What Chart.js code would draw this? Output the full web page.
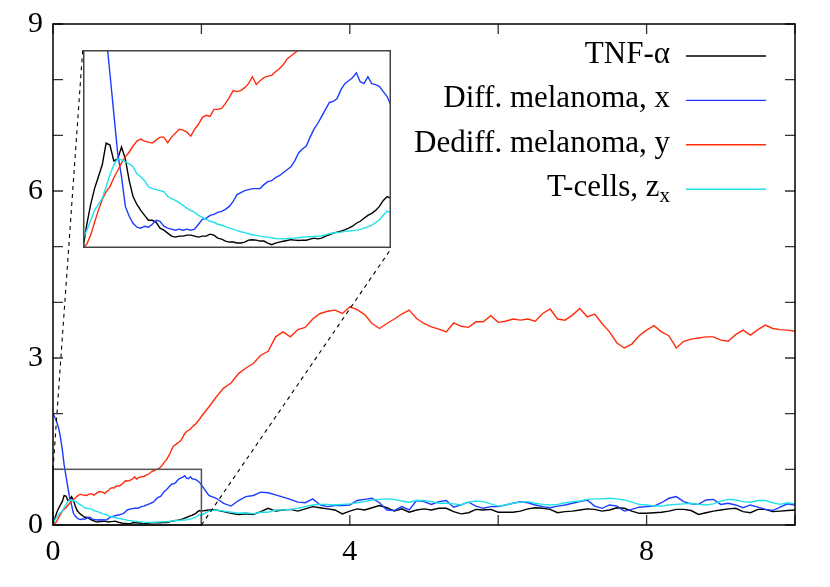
<!DOCTYPE html>
<html>
<head>
<meta charset="utf-8">
<script src="https://cdn.jsdelivr.net/npm/chart.js@4.4.1/dist/chart.umd.min.js"></script>
<style>
  html, body { margin: 0; padding: 0; background: #fff; }
  #wrap { position: relative; width: 830px; height: 587px; }
  #main { position: absolute; left: 0; top: 0; }
  #insetBox { position: absolute; background: #fff; }
  #insetBox canvas { display: block; }
</style>
</head>
<body>
<div id="wrap">
  <canvas id="main" width="830" height="587"></canvas>
  <div id="insetBox"><canvas id="inset"></canvas></div>
</div>
<script>
// sampling grid: fine up to t=2 (shown in the inset), coarser afterwards
const EARLY_STEP = 0.025, EARLY_COUNT = 81;
const LATE_STEP = 0.1, LATE_COUNT = 80;

// ---- values, t = 0 .. 2 (step 0.025) ----
const TNF_EARLY = [0.00,0.12,0.22,0.30,0.36,0.42,0.53,0.52,0.44,0.45,0.51,0.45,0.34,0.26,0.22,0.19,0.165,0.14,0.14,0.13,
  0.10,0.09,0.075,0.06,0.055,0.06,0.06,0.065,0.065,0.06,0.055,0.06,0.06,0.07,0.065,0.05,0.045,0.035,0.03,0.03,
  0.025,0.025,0.03,0.04,0.042,0.04,0.035,0.035,0.025,0.017,0.025,0.03,0.034,0.038,0.042,0.04,0.038,0.04,0.039,0.045,
  0.05,0.046,0.05,0.06,0.067,0.075,0.08,0.085,0.092,0.10,0.11,0.125,0.135,0.15,0.165,0.175,0.19,0.21,0.24,0.26,0.25];
const DIFF_EARLY = [2.00,1.93,1.85,1.75,1.58,1.36,1.08,0.88,0.68,0.48,0.36,0.21,0.16,0.125,0.105,0.10,0.11,0.105,0.12,0.14,
  0.135,0.11,0.10,0.095,0.09,0.095,0.09,0.095,0.09,0.095,0.12,0.145,0.15,0.165,0.17,0.18,0.185,0.195,0.21,0.235,
  0.27,0.28,0.29,0.295,0.30,0.30,0.30,0.32,0.335,0.34,0.355,0.365,0.38,0.395,0.41,0.44,0.48,0.50,0.515,0.56,
  0.60,0.63,0.665,0.70,0.735,0.74,0.755,0.80,0.83,0.845,0.86,0.885,0.84,0.83,0.865,0.83,0.825,0.815,0.79,0.765,0.72];
const DEDIFF_EARLY = [0.00,0.02,0.065,0.13,0.19,0.245,0.285,0.31,0.355,0.39,0.43,0.46,0.485,0.515,0.54,0.55,0.54,0.535,0.53,0.545,
  0.56,0.56,0.532,0.56,0.58,0.60,0.595,0.585,0.565,0.60,0.625,0.66,0.67,0.665,0.70,0.70,0.705,0.73,0.76,0.795,
  0.79,0.795,0.81,0.83,0.865,0.826,0.845,0.86,0.868,0.872,0.89,0.905,0.925,0.955,0.97,0.985,1.00,1.01,1.04,1.08,
  1.13,1.16,1.22,1.28,1.36,1.42,1.44,1.47,1.49,1.52,1.58,1.64,1.68,1.70,1.72,1.76,1.79,1.82,1.86,1.90,1.95];
const TCELL_EARLY = [0.05,0.09,0.14,0.19,0.22,0.25,0.31,0.37,0.42,0.45,0.445,0.435,0.425,0.41,0.375,0.36,0.34,0.31,0.30,0.295,
  0.29,0.285,0.26,0.25,0.24,0.228,0.215,0.20,0.19,0.18,0.165,0.155,0.145,0.135,0.13,0.12,0.115,0.108,0.10,0.095,
  0.088,0.082,0.078,0.072,0.067,0.064,0.06,0.057,0.055,0.052,0.048,0.046,0.047,0.048,0.05,0.05,0.052,0.054,0.056,0.057,
  0.058,0.059,0.062,0.066,0.072,0.076,0.078,0.08,0.084,0.086,0.088,0.09,0.093,0.10,0.107,0.115,0.128,0.143,0.165,0.186,0.177];

// ---- values, t = 2.1 .. 10 (step 0.1) ----
const TNF_LATE = [0.27,0.27,0.24,0.21,0.19,0.20,0.19,0.24,0.30,
  0.25,0.27,0.28,0.25,0.29,0.33,0.31,0.29,0.27,0.20,
  0.25,0.29,0.27,0.31,0.35,0.31,0.25,0.29,0.23,0.27,
  0.29,0.27,0.30,0.30,0.24,0.20,0.22,0.28,0.27,0.28,
  0.23,0.23,0.23,0.25,0.29,0.31,0.30,0.28,0.22,0.24,
  0.25,0.27,0.29,0.28,0.25,0.27,0.31,0.30,0.25,0.21,
  0.21,0.22,0.23,0.25,0.28,0.28,0.26,0.19,0.22,0.25,
  0.27,0.29,0.30,0.24,0.22,0.28,0.28,0.24,0.25,0.26,0.27];
const DIFF_LATE = [0.53,0.48,0.39,0.34,0.44,0.51,0.53,0.59,0.58,
  0.54,0.50,0.46,0.41,0.40,0.47,0.36,0.33,0.35,0.35,
  0.36,0.44,0.46,0.48,0.40,0.27,0.26,0.33,0.27,0.44,
  0.42,0.37,0.42,0.44,0.32,0.36,0.41,0.34,0.30,0.33,
  0.33,0.36,0.39,0.42,0.40,0.36,0.33,0.31,0.34,0.36,
  0.39,0.42,0.45,0.34,0.30,0.36,0.34,0.25,0.28,0.32,
  0.33,0.34,0.40,0.48,0.51,0.42,0.38,0.37,0.45,0.46,
  0.37,0.39,0.36,0.31,0.36,0.32,0.28,0.26,0.32,0.38,0.36];
const DEDIFF_LATE = [2.12,2.30,2.46,2.55,2.72,2.82,2.90,3.05,3.12,
  3.38,3.47,3.38,3.51,3.55,3.70,3.80,3.84,3.86,3.80,
  3.92,3.87,3.78,3.62,3.53,3.62,3.70,3.79,3.86,3.71,
  3.62,3.56,3.52,3.47,3.63,3.57,3.55,3.65,3.65,3.76,
  3.64,3.66,3.70,3.68,3.70,3.66,3.80,3.88,3.70,3.68,
  3.77,3.89,3.74,3.79,3.62,3.47,3.27,3.18,3.25,3.40,
  3.50,3.58,3.47,3.40,3.18,3.30,3.34,3.36,3.38,3.38,
  3.32,3.30,3.42,3.50,3.41,3.51,3.59,3.53,3.51,3.50,3.48];
const TCELL_LATE = [0.25,0.27,0.25,0.23,0.21,0.22,0.20,0.23,0.23,
  0.27,0.27,0.28,0.30,0.33,0.36,0.37,0.37,0.36,0.37,
  0.38,0.40,0.42,0.45,0.46,0.47,0.46,0.43,0.41,0.44,
  0.44,0.42,0.39,0.39,0.38,0.36,0.41,0.43,0.42,0.38,
  0.34,0.36,0.39,0.41,0.42,0.39,0.37,0.36,0.37,0.40,
  0.42,0.43,0.46,0.47,0.47,0.48,0.47,0.45,0.41,0.37,
  0.36,0.34,0.34,0.36,0.37,0.38,0.39,0.37,0.36,0.38,
  0.43,0.46,0.45,0.42,0.41,0.44,0.44,0.40,0.37,0.40,0.38];

const SERIES_LABELS = ['TNF-\u03b1', 'Diff. melanoma, x', 'Dediff. melanoma, y', 'T-cells, z'];
const SERIES_SUBSCRIPTS = ['', '', '', 'x'];
const SERIES_COLORS = ['#000000', '#1b3cff', '#ff2d0d', '#1ee2ea'];
const X_LABELS = [0, 4, 8];
const Y_LABELS = [0, 3, 6, 9];

// zoom window [0,2]x[0,1] and where the inset sits, in main-axis units
const ZOOM_X = [0, 2], ZOOM_Y = [0, 1];
const INSET_X = [0.40, 4.56], INSET_Y = [4.97, 8.53];

const SERIF = "'Liberation Serif', 'Times New Roman', serif";
const TICK_LEN = 10;

const TIMES = [];
for (let i = 0; i < EARLY_COUNT; i++) TIMES.push(+(i * EARLY_STEP).toFixed(3));
for (let j = 1; j <= LATE_COUNT; j++) TIMES.push(+(2 + j * LATE_STEP).toFixed(3));

function toPoints(early, late) {
  return early.concat(late).map((v, i) => ({ x: TIMES[i], y: v }));
}
const SERIES_DATA = [
  toPoints(TNF_EARLY, TNF_LATE),
  toPoints(DIFF_EARLY, DIFF_LATE),
  toPoints(DEDIFF_EARLY, DEDIFF_LATE),
  toPoints(TCELL_EARLY, TCELL_LATE),
];

function makeDatasets() {
  return SERIES_DATA.map((d, i) => ({
    label: SERIES_LABELS[i] + SERIES_SUBSCRIPTS[i],
    data: d,
    borderColor: SERIES_COLORS[i],
    borderWidth: 1.4,
    pointRadius: 0,
    tension: 0,
    fill: false,
    order: SERIES_DATA.length - i, // later series on top, like the original
  }));
}

const frameTicks = {
  id: 'frameTicks',
  afterDatasetsDraw(chart) {
    const { ctx, chartArea: a, scales: { x, y } } = chart;
    ctx.save();
    ctx.strokeStyle = '#333';
    ctx.lineWidth = 1.3;
    ctx.beginPath();
    x.ticks.forEach(t => {
      const px = x.getPixelForValue(t.value);
      ctx.moveTo(px, a.bottom); ctx.lineTo(px, a.bottom - TICK_LEN);
      ctx.moveTo(px, a.top); ctx.lineTo(px, a.top + TICK_LEN);
    });
    y.ticks.forEach(t => {
      const py = y.getPixelForValue(t.value);
      ctx.moveTo(a.left, py); ctx.lineTo(a.left + TICK_LEN, py);
      ctx.moveTo(a.right, py); ctx.lineTo(a.right - TICK_LEN, py);
    });
    ctx.stroke();

    // zoom window
    ctx.strokeStyle = '#555';
    ctx.lineWidth = 1.5;
    const zx0 = x.getPixelForValue(ZOOM_X[0]), zx1 = x.getPixelForValue(ZOOM_X[1]);
    const zy0 = y.getPixelForValue(ZOOM_Y[0]), zy1 = y.getPixelForValue(ZOOM_Y[1]);
    ctx.strokeRect(zx0, zy1, zx1 - zx0, zy0 - zy1);

    // connectors to the inset
    ctx.strokeStyle = '#000';
    ctx.lineWidth = 1.1;
    ctx.setLineDash([4, 4]);
    ctx.beginPath();
    ctx.moveTo(zx0, zy1);
    ctx.lineTo(x.getPixelForValue(INSET_X[0]), y.getPixelForValue(INSET_Y[1]));
    ctx.moveTo(zx1, zy0);
    ctx.lineTo(x.getPixelForValue(INSET_X[1]), y.getPixelForValue(INSET_Y[0]));
    ctx.stroke();
    ctx.setLineDash([]);

    // frame
    ctx.strokeStyle = '#000';
    ctx.lineWidth = 1.5;
    ctx.strokeRect(a.left, a.top, a.width, a.height);
    ctx.restore();
  }
};

const sideLegend = {
  id: 'sideLegend',
  afterDraw(chart) {
    const { ctx, chartArea: a } = chart;
    const textRight = a.right - 125, lineX0 = a.right - 109, lineX1 = a.right - 29;
    ctx.save();
    SERIES_LABELS.forEach((lab, i) => {
      const rowY = a.top + 32 + i * 44.4;
      ctx.textBaseline = 'alphabetic';
      ctx.textAlign = 'right';
      ctx.fillStyle = '#000';
      let right = textRight;
      if (SERIES_SUBSCRIPTS[i]) {
        ctx.font = '21px ' + SERIF;
        ctx.fillText(SERIES_SUBSCRIPTS[i], right, rowY + 13);
        right -= ctx.measureText(SERIES_SUBSCRIPTS[i]).width;
      }
      ctx.font = '31px ' + SERIF;
      ctx.fillText(lab, right, rowY + 7);
      ctx.strokeStyle = SERIES_COLORS[i];
      ctx.lineWidth = 1.4;
      ctx.beginPath();
      ctx.moveTo(lineX0, rowY); ctx.lineTo(lineX1, rowY);
      ctx.stroke();
    });
    ctx.restore();
  }
};

const mainChart = new Chart(document.getElementById('main'), {
  type: 'line',
  data: { datasets: makeDatasets() },
  options: {
    responsive: false, animation: false,
    layout: { padding: { top: 24, right: 35, left: 0, bottom: 0 } },
    plugins: { legend: { display: false }, tooltip: { enabled: false } },
    scales: {
      x: {
        type: 'linear', min: 0, max: 10,
        grid: { display: false, drawTicks: false }, border: { display: false },
        ticks: {
          stepSize: 2, padding: 9, maxRotation: 0, color: '#000',
          font: { family: SERIF, size: 30 },
          callback: v => X_LABELS.includes(v) ? String(v) : '',
        },
        afterFit: s => { s.height = 62; },
      },
      y: {
        type: 'linear', min: 0, max: 9,
        grid: { display: false, drawTicks: false }, border: { display: false },
        ticks: {
          stepSize: 1, padding: 10, color: '#000',
          // small line height keeps the top label from pushing the plot area down
          font: { family: SERIF, size: 30, lineHeight: 0.8 },
          callback: v => Y_LABELS.includes(v) ? String(v) : '',
        },
        afterFit: s => { s.width = 53; },
      },
    },
  },
  plugins: [frameTicks, sideLegend],
});

// place the inset over the main chart, using the main scales
const mx = mainChart.scales.x, my = mainChart.scales.y;
const L = Math.round(mx.getPixelForValue(INSET_X[0])), R = Math.round(mx.getPixelForValue(INSET_X[1]));
const T = Math.round(my.getPixelForValue(INSET_Y[1])), B = Math.round(my.getPixelForValue(INSET_Y[0]));
const box = document.getElementById('insetBox');
box.style.left = L + 'px'; box.style.top = T + 'px';
box.style.width = (R - L) + 'px'; box.style.height = (B - T) + 'px';
const insetCanvas = document.getElementById('inset');
insetCanvas.width = R - L; insetCanvas.height = B - T;

const insetFrame = {
  id: 'insetFrame',
  afterDatasetsDraw(chart) {
    const { ctx, width, height } = chart;
    ctx.save();
    ctx.strokeStyle = '#444';
    ctx.lineWidth = 1.5;
    ctx.strokeRect(0.75, 0.75, width - 1.5, height - 1.5);
    ctx.restore();
  }
};

new Chart(insetCanvas, {
  type: 'line',
  data: { datasets: makeDatasets() },
  options: {
    responsive: false, animation: false,
    layout: { padding: 0 },
    plugins: { legend: { display: false }, tooltip: { enabled: false } },
    scales: {
      x: { type: 'linear', min: ZOOM_X[0], max: ZOOM_X[1], display: false },
      y: { type: 'linear', min: ZOOM_Y[0], max: ZOOM_Y[1], display: false },
    },
  },
  plugins: [insetFrame],
});
</script>
</body>
</html>
